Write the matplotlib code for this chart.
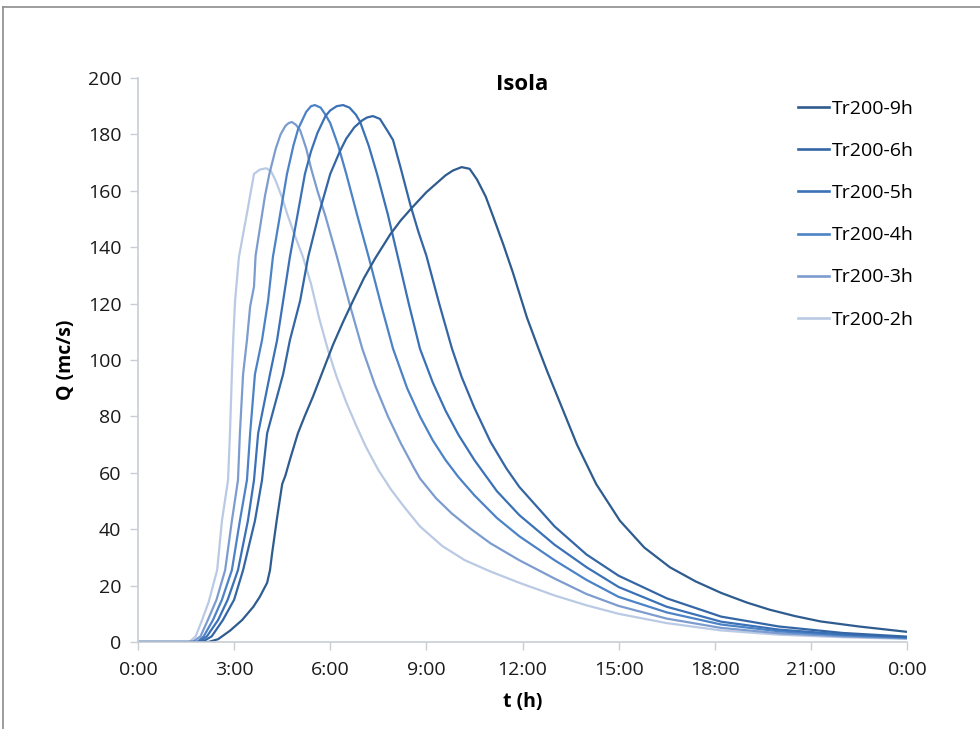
import numpy as np
import matplotlib.pyplot as plt
from matplotlib.lines import Line2D
from matplotlib.ticker import FuncFormatter, MultipleLocator

# Idrogrammi di piena Tr200 - sezione Isola
# tempi in ore dall'inizio dell'evento, portate in mc/s

t_9h = [0, 2.2, 2.5, 2.87, 3.25, 3.6, 3.8, 4.03, 4.12, 4.18, 4.34, 4.5, 4.6, 4.75, 4.99,
        5.2, 5.46, 5.8, 6.09, 6.4, 6.71, 7.05, 7.4, 7.87, 8.2, 8.55, 9.0, 9.3, 9.6, 9.83,
        10.1, 10.35, 10.58, 10.85, 11.08, 11.4, 11.7, 12.14, 12.5, 12.77, 13.2, 13.7, 14.3,
        15.04, 15.8, 16.6, 17.4, 18.2, 19.0, 19.7, 20.5, 21.3, 22.5, 24.0]
q_9h = [0, 0, 1, 4, 7.8, 12.5, 16, 21, 25.5, 31, 44, 56, 59, 65, 74,
        80, 87, 97, 105.5, 113.5, 121, 129, 136, 144.5, 149.5, 154, 159.5, 162.5, 165.5, 167.2,
        168.4, 167.8, 164, 158, 151, 141, 131, 115, 104, 96, 84, 70, 56,
        43, 33.5, 26.5, 21.5, 17.4, 14, 11.5, 9.2, 7.3, 5.5, 3.6]

t_6h = [0, 2.0, 2.3, 2.65, 3.0, 3.28, 3.65, 3.87, 4.03, 4.53, 4.74, 5.06, 5.31, 5.65, 6.0,
        6.3, 6.5, 6.75, 7.0, 7.15, 7.33, 7.55, 7.8, 7.96, 8.2, 8.5, 8.75, 9.0, 9.4, 9.8,
        10.1, 10.5, 11.0, 11.5, 11.9, 13.0, 14.0, 15.0, 16.5, 18.2, 20.0, 22.0, 24.0]
q_6h = [0, 0, 2, 7.8, 15, 25.5, 43, 57.4, 74, 95, 107, 121, 136.5, 152, 166,
        174, 178.5, 182.5, 185, 186, 186.5, 185.5, 181, 178, 168, 155, 145.5, 137, 120, 104,
        94, 83, 71, 61.5, 55, 41, 31, 23.5, 15.5, 9, 5.5, 3.2, 1.9]

t_5h = [0, 1.9, 2.15, 2.5, 2.8, 3.12, 3.43, 3.62, 3.75, 4.12, 4.34, 4.53, 4.74, 5.21, 5.4,
        5.6, 5.85, 6.0, 6.2, 6.4, 6.6, 6.8, 6.93, 7.2, 7.46, 7.8, 8.1, 8.45, 8.8, 9.2,
        9.6, 10.0, 10.5, 11.2, 11.9, 13.0, 14.0, 15.0, 16.5, 18.2, 20.0, 22.0, 24.0]
q_5h = [0, 0, 2, 7.8, 15, 25.5, 43, 57.4, 74, 95, 107, 121, 136.5, 166, 174,
        180.5, 186.5, 188.5, 190, 190.4, 189.5, 187, 184.5, 176, 166, 151.5, 137, 120, 104, 92,
        82, 73.5, 64.5, 53.5, 45, 34.5, 26.5, 19.5, 12.5, 7.2, 4.4, 2.7, 1.7]

t_4h = [0, 1.85, 2.05, 2.34, 2.62, 2.93, 3.18, 3.4, 3.5, 3.65, 3.87, 4.06, 4.21, 4.65, 4.85,
        5.0, 5.25, 5.4, 5.52, 5.7, 5.85, 6.0, 6.25, 6.5, 6.85, 7.2, 7.6, 7.96, 8.4, 8.8,
        9.2, 9.6, 10.0, 10.5, 11.2, 11.9, 13.0, 14.0, 15.0, 16.5, 18.2, 20.0, 22.0, 24.0]
q_4h = [0, 0, 2, 7.8, 15, 25.5, 43, 57.4, 74, 95, 107, 121, 136.5, 166, 176,
        182, 188, 190, 190.4, 189.5, 187, 184, 176, 166, 151, 136.5, 119, 104, 90, 80,
        71.5, 64.5, 58.5, 52, 44, 37.5, 29, 22, 16, 10.5, 6.2, 3.8, 2.4, 1.5]

t_3h = [0, 1.7, 1.95, 2.18, 2.45, 2.72, 2.93, 3.12, 3.18, 3.28, 3.4, 3.5, 3.62, 3.67, 3.96,
        4.1, 4.3, 4.45, 4.6, 4.7, 4.8, 4.92, 5.06, 5.25, 5.4, 5.6, 5.85, 6.2, 6.6, 7.0,
        7.4, 7.8, 8.2, 8.6, 8.8, 9.3, 9.8, 10.4, 11.0, 11.9, 13.0, 14.0, 15.0, 16.5, 18.2,
        20.0, 22.0, 24.0]
q_3h = [0, 0, 2, 7.8, 15, 25.5, 43, 57.4, 74, 95, 107, 119, 126, 137, 158,
        166, 175, 180, 183, 184, 184.4, 183.5, 181.5, 175, 168, 160, 151, 137, 120, 104,
        91, 80, 70.5, 62, 58, 51, 45.5, 40, 35, 29, 22.5, 17, 12.8, 8.3, 5,
        3.1, 2, 1.3]

t_2h = [0, 1.6, 1.8, 2.0, 2.2, 2.47, 2.62, 2.81, 2.87, 2.93, 2.97, 3.03, 3.15, 3.4, 3.62,
        3.8, 4.0, 4.15, 4.3, 4.5, 4.65, 4.9, 5.15, 5.4, 5.65, 5.93, 6.2, 6.5, 6.8, 7.1,
        7.5, 7.9, 8.3, 8.8, 9.5, 10.2, 11.0, 11.9, 13.0, 14.0, 15.0, 16.5, 18.2, 20.0,
        22.0, 24.0]
q_2h = [0, 0, 2, 7.8, 14, 25.5, 43, 57.4, 74, 95, 107, 121, 136.5, 152, 166,
        167.5, 168, 167, 163.5, 157.5, 152, 144, 136.5, 127, 115, 103.5, 94, 85, 77, 69.5,
        61, 54, 48, 41, 34, 29, 25, 21, 16.5, 13, 10, 6.7, 4.1, 2.6,
        1.7, 1.1]

labels = ['Tr200-9h', 'Tr200-6h', 'Tr200-5h', 'Tr200-4h', 'Tr200-3h', 'Tr200-2h']
colori = ['#2E5C8F', '#3466A6', '#3B71B7', '#4C82C6', '#7C9CCF', '#BACAE4']
serie = [(t_9h, q_9h), (t_6h, q_6h), (t_5h, q_5h), (t_4h, q_4h), (t_3h, q_3h), (t_2h, q_2h)]

plt.rcParams['font.family'] = ['Open Sans', 'DejaVu Sans']

fig = plt.figure(figsize=(9.8, 7.29), dpi=100)
ax = fig.add_axes([138/980, 1 - 642/729, (907-138)/980, (642-78)/729])

# prima le curve chiare, cosi' quelle scure restano sopra
for (t, q), lab, col in reversed(list(zip(serie, labels, colori))):
    ax.plot(t, q, color=col, lw=1.6, label=lab, solid_joinstyle='round')

ax.set_xlim(0, 24)
ax.set_ylim(0, 200)
ax.xaxis.set_major_locator(MultipleLocator(3))
ax.yaxis.set_major_locator(MultipleLocator(20))
ax.xaxis.set_major_formatter(FuncFormatter(lambda v, p: '%d:00' % (int(round(v)) % 24)))

for s in ['top', 'right']:
    ax.spines[s].set_visible(False)
for s in ['left', 'bottom']:
    ax.spines[s].set_color('#C8CDD6')
    ax.spines[s].set_linewidth(1.2)
ax.tick_params(axis='both', direction='out', length=6, width=1.0, color='#C8CDD6',
               labelsize=14, labelcolor='#1A1A1A')
ax.tick_params(axis='x', pad=8)
ax.tick_params(axis='y', pad=6)

ax.set_xlabel('t (h)', fontsize=14, fontweight='bold', labelpad=9)
ax.set_ylabel('Q (mc/s)', fontsize=14, fontweight='bold', labelpad=8)
ax.text(0.5, 0.988, 'Isola', transform=ax.transAxes, ha='center', va='center',
        fontsize=16, fontweight='bold')

handles = [Line2D([], [], color=c, lw=1.9) for c in colori]
fig.legend(handles, labels, loc='upper left', bbox_to_anchor=(798/980, 1 - 100/729),
           frameon=False, fontsize=14, handlelength=1.6, handletextpad=0.15,
           labelspacing=1.24, borderpad=0, borderaxespad=0)

# bordo grigio del riquadro del grafico
fig.add_artist(Line2D([3/980, 1], [1 - 7/729, 1 - 7/729], color='#8C8C8C', lw=1.2))
fig.add_artist(Line2D([3/980, 3/980], [0, 1 - 7/729], color='#8C8C8C', lw=1.2))

fig.savefig('out.png', dpi=100)
